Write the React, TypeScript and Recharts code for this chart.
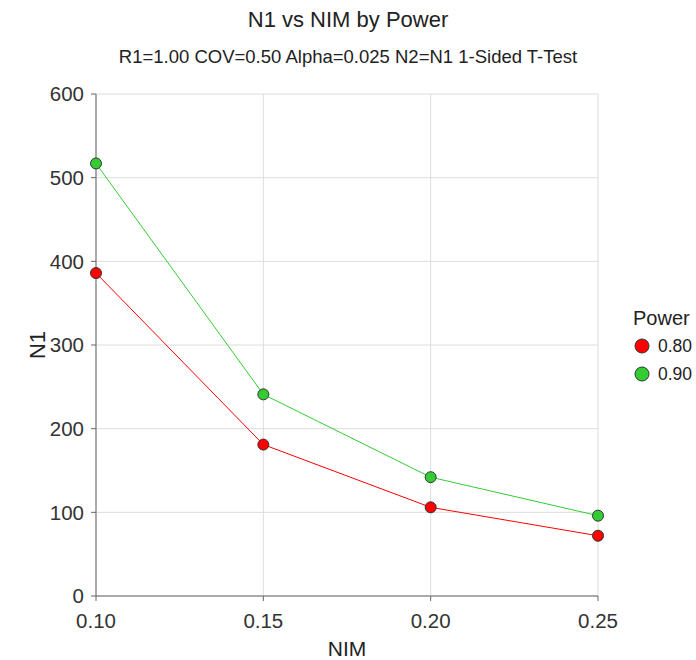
import React from "react";
import { LineChart, Line, XAxis, YAxis, CartesianGrid } from "recharts";

const nim = [0.1, 0.15, 0.2, 0.25];
const power80 = [386, 181, 106, 72];
const power90 = [517, 241, 142, 96];
const xTicks = [0.1, 0.15, 0.2, 0.25];
const yTicks = [0, 100, 200, 300, 400, 500, 600];
const seriesNames = ["0.80", "0.90"];
const colors = ["#ff0000", "#33cc33"];

const data = nim.map((x, i) => ({ nim: x, p80: power80[i], p90: power90[i] }));

const font = "'Liberation Sans', Arial, sans-serif";

export default function App() {
  return (
    <div style={{ position: "absolute", left: 0, top: 0, width: 696, height: 660, background: "#fff", fontFamily: font, color: "#222" }}>
      <div style={{ position: "absolute", top: 6, width: 696, textAlign: "center", fontSize: 22, lineHeight: "28px" }}>
        N1 vs NIM by Power
      </div>
      <div style={{ position: "absolute", top: 46, width: 696, textAlign: "center", fontSize: 18.5, lineHeight: "22px" }}>
        R1=1.00 COV=0.50 Alpha=0.025 N2=N1 1-Sided T-Test
      </div>
      <LineChart
        width={696}
        height={660}
        data={data}
        margin={{ top: 94, right: 98, bottom: 0, left: 0 }}
      >
        <CartesianGrid stroke="#dddddd" strokeWidth={1} />
        <XAxis
          dataKey="nim"
          type="number"
          domain={[0.1, 0.25]}
          ticks={xTicks}
          tickFormatter={(v: number) => v.toFixed(2)}
          height={64}
          stroke="#666"
          tickSize={5}
          tickMargin={12}
          tick={{ fill: "#333", fontSize: 20.5, fontFamily: font }}
        />
        <YAxis
          type="number"
          domain={[0, 600]}
          ticks={yTicks}
          width={96}
          stroke="#666"
          tickSize={5}
          tickMargin={7}
          tick={{ fill: "#333", fontSize: 20.5, fontFamily: font }}
        />
        <Line
          dataKey="p80"
          name="0.80"
          stroke={colors[0]}
          strokeWidth={1}
          isAnimationActive={false}
          dot={{ r: 5.5, fill: colors[0], stroke: "#333", strokeWidth: 1 }}
        />
        <Line
          dataKey="p90"
          name="0.90"
          stroke={colors[1]}
          strokeWidth={1}
          isAnimationActive={false}
          dot={{ r: 5.5, fill: colors[1], stroke: "#333", strokeWidth: 1 }}
        />
      </LineChart>
      <div style={{ position: "absolute", left: 247, width: 200, top: 638, textAlign: "center", fontSize: 21, lineHeight: "22px" }}>
        NIM
      </div>
      <div style={{ position: "absolute", left: 38, top: 345, width: 0, height: 0 }}>
        <div style={{ position: "absolute", left: -50, top: -14, width: 100, textAlign: "center", fontSize: 22, lineHeight: "28px", transform: "rotate(-90deg)" }}>
          N1
        </div>
      </div>
      <div style={{ position: "absolute", left: 633, top: 305 }}>
        <div style={{ fontSize: 20, lineHeight: "26px", marginBottom: 1 }}>Power</div>
        {seriesNames.map((n, i) => (
          <div key={n} style={{ display: "flex", alignItems: "center", height: 28 }}>
            <svg width={18} height={18} style={{ marginRight: 7 }}>
              <circle cx={9} cy={9} r={7} fill={colors[i]} stroke="#333" strokeWidth={1} />
            </svg>
            <span style={{ fontSize: 17.5 }}>{n}</span>
          </div>
        ))}
      </div>
    </div>
  );
}
